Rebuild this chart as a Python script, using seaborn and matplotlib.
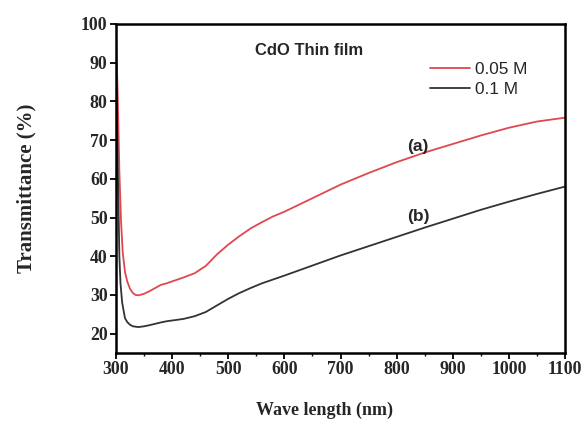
import numpy as np
import pandas as pd
import seaborn as sns
import matplotlib.pyplot as plt

# wavelength (nm) and transmittance (%)
wl_a = [300, 303, 306, 309, 312, 316, 320, 325, 330, 335, 340, 350, 360, 370,
        380, 390, 400, 420, 440, 460, 480, 500, 520, 540, 560, 580, 600, 650,
        700, 750, 800, 850, 900, 950, 1000, 1050, 1100]
t_a = [97, 82, 62, 49, 41, 36, 33.5, 31.6, 30.5, 30.0, 29.9, 30.3, 31.0, 31.8,
       32.6, 33.0, 33.5, 34.5, 35.6, 37.5, 40.5, 43.0, 45.2, 47.2, 48.8, 50.3,
       51.5, 55.0, 58.5, 61.5, 64.3, 66.8, 69.0, 71.2, 73.2, 74.8, 75.8]

wl_b = [300, 303, 306, 308, 311, 316, 320, 325, 330, 340, 350, 360, 380, 390,
        400, 420, 440, 460, 480, 500, 520, 540, 560, 580, 600, 650, 700, 750,
        800, 850, 900, 950, 1000, 1050, 1100]
t_b = [90, 65, 40, 33, 28, 24.0, 23.0, 22.3, 21.9, 21.7, 21.9, 22.2, 22.9, 23.2,
       23.4, 23.8, 24.5, 25.6, 27.3, 29.0, 30.5, 31.8, 33.0, 34.0, 35.0, 37.6,
       40.2, 42.6, 45.0, 47.4, 49.7, 52.0, 54.1, 56.1, 58.0]

labels = ['0.05 M', '0.1 M']
colors = ['#e0474f', '#333333']

df = pd.concat([
    pd.DataFrame({'wl': wl_a, 'T': t_a, 'conc': labels[0]}),
    pd.DataFrame({'wl': wl_b, 'T': t_b, 'conc': labels[1]}),
])

sns.set_style('ticks')
fig = plt.figure(figsize=(5.87, 4.21), dpi=100)
ax = fig.add_axes([0.1976, 0.1615, 0.765, 0.7815])

sns.lineplot(data=df, x='wl', y='T', hue='conc', palette=colors,
             linewidth=1.3, sort=False, ax=ax)

ax.set_xlim(300, 1100)
ax.set_ylim(15, 100)
ax.set_xticks(np.arange(300, 1101, 100))
ax.set_yticks(np.arange(20, 101, 10))
ax.set_xticks(np.arange(350, 1100, 100), minor=True)
ax.set_yticks(np.arange(15, 100, 5)[1::2], minor=True)

for lab in ax.get_xticklabels() + ax.get_yticklabels():
    lab.set_fontfamily('Liberation Serif')
    lab.set_fontweight('bold')
    lab.set_fontsize(12.8)
ax.tick_params(which='major', direction='out', length=4, width=1.3, color='black', pad=2)
ax.tick_params(which='minor', direction='out', length=2.5, width=1.0, color='black')
for sp in ax.spines.values():
    sp.set_linewidth(1.8)
    sp.set_color('black')

ax.set_xlabel('Wave length (nm)', family='Liberation Serif', weight='bold', fontsize=13)
ax.set_ylabel('Transmittance (%)', family='Liberation Serif', weight='bold', fontsize=15)
ax.xaxis.set_label_coords(0.465, -0.148)
ax.yaxis.set_label_coords(-0.178, 0.5)

ax.text(0.31, 0.906, 'CdO Thin film', transform=ax.transAxes,
        family='Liberation Sans', weight='bold', fontsize=12)
ax.text(819, 67.2, '(a)', family='Liberation Sans', weight='bold', fontsize=12.5)
ax.text(819, 49.2, '(b)', family='Liberation Sans', weight='bold', fontsize=12.5)

leg = ax.legend(loc='upper left', bbox_to_anchor=(0.70, 0.885), frameon=False,
                borderaxespad=0, borderpad=0,
                handlelength=2.3, handletextpad=0.3, labelspacing=0.3,
                prop={'family': 'Liberation Sans', 'size': 12.4})
for h in leg.get_lines():
    h.set_linewidth(1.3)

fig.savefig('out.png', dpi=100)
